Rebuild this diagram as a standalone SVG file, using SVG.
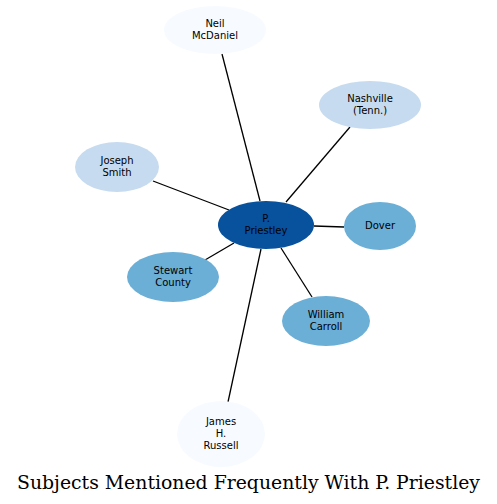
<svg xmlns="http://www.w3.org/2000/svg" width="497" height="504" viewBox="0 0 497 504">
<style>
.n text{font-family:"DejaVu Sans",sans-serif;font-size:10px;text-anchor:middle;fill:#000}
.e line{stroke:#000;stroke-width:1.3}
.t{font-family:"DejaVu Serif",serif;font-size:18px;text-anchor:middle;fill:#000}
</style>
<rect width="497" height="504" fill="#fff"/>
<g class="e" id="edges">
<line x1="222" y1="54" x2="260" y2="201"/>
<line x1="350" y1="127" x2="286" y2="202"/>
<line x1="153" y1="181" x2="229" y2="210"/>
<line x1="314" y1="226" x2="344" y2="227"/>
<line x1="205" y1="260" x2="234" y2="243"/>
<line x1="312" y1="297" x2="281" y2="248"/>
<line x1="228" y1="402" x2="261" y2="249"/>
</g>
<g class="n" id="n_priestley"><ellipse cx="266" cy="225" rx="48" ry="24" fill="#08519c"/><text x="266" y="222">P.</text><text x="266" y="234">Priestley</text></g>
<g class="n" id="n_neil"><ellipse cx="215" cy="30" rx="51" ry="24" fill="#f7fbff"/><text x="215" y="27">Neil</text><text x="215" y="39">McDaniel</text></g>
<g class="n" id="n_nashville"><ellipse cx="370" cy="105" rx="51" ry="24" fill="#c6dbef"/><text x="370" y="102">Nashville</text><text x="370" y="114">(Tenn.)</text></g>
<g class="n" id="n_joseph"><ellipse cx="117" cy="167" rx="42" ry="25" fill="#c6dbef"/><text x="117" y="164">Joseph</text><text x="117" y="176">Smith</text></g>
<g class="n" id="n_dover"><ellipse cx="380" cy="226" rx="36" ry="24" fill="#6baed6"/><text x="380" y="229">Dover</text></g>
<g class="n" id="n_stewart"><ellipse cx="173" cy="277" rx="46" ry="25" fill="#6baed6"/><text x="173" y="274">Stewart</text><text x="173" y="286">County</text></g>
<g class="n" id="n_william"><ellipse cx="326" cy="321" rx="44" ry="25" fill="#6baed6"/><text x="326" y="318">William</text><text x="326" y="330">Carroll</text></g>
<g class="n" id="n_james"><ellipse cx="221" cy="434" rx="44" ry="33" fill="#f7fbff"/><text x="221" y="425">James</text><text x="221" y="437">H.</text><text x="221" y="449">Russell</text></g>
<text class="t" x="248.5" y="489" textLength="463" lengthAdjust="spacingAndGlyphs">Subjects Mentioned Frequently With P. Priestley</text>
</svg>
